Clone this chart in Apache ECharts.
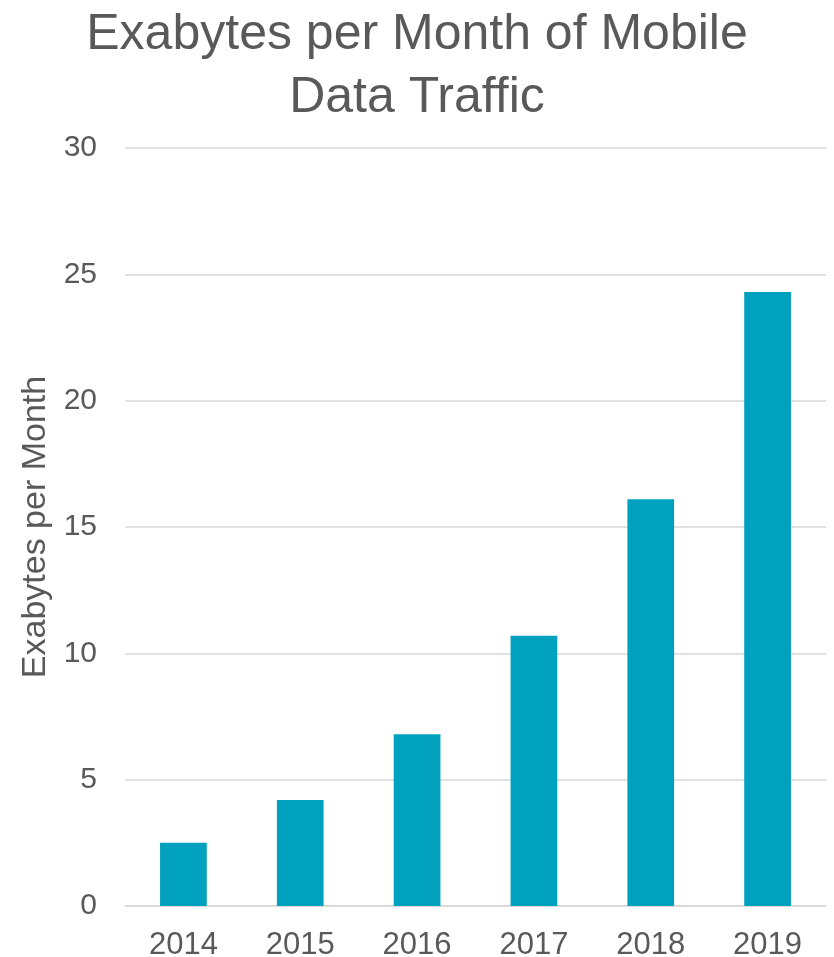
<!DOCTYPE html>
<html>
<head>
<meta charset="utf-8">
<script src="https://cdn.jsdelivr.net/npm/echarts@6/dist/echarts.min.js"></script>
<style>
  html, body { margin: 0; padding: 0; background: #ffffff; }
  #chart { width: 834px; height: 957px; }
</style>
</head>
<body>
<div id="chart"></div>
<script>
// Mobile data traffic, exabytes per month
const years = ['2014', '2015', '2016', '2017', '2018', '2019'];
const exabytes = [2.5, 4.2, 6.8, 10.7, 16.1, 24.3];
const yTicks = [0, 5, 10, 15, 20, 25, 30];

const textColor = '#595959';
const gridColor = '#d9d9d9';
const fontFamily = '"Liberation Sans", Arial, sans-serif';

const chart = echarts.init(document.getElementById('chart'), null, { renderer: 'canvas' });

chart.setOption({
  backgroundColor: '#ffffff',
  animation: false,
  title: {
    text: 'Exabytes per Month of Mobile\nData Traffic',
    left: 'center',
    top: -1,
    textStyle: {
      color: textColor,
      fontFamily: fontFamily,
      fontWeight: 'normal',
      fontSize: 50,
      lineHeight: 63
    }
  },
  grid: {
    left: 125,
    right: 8,
    top: 148,
    bottom: 51,
    outerBoundsMode: 'none'
  },
  xAxis: {
    type: 'category',
    data: years,
    axisLine: { show: true, lineStyle: { color: gridColor, width: 1.5 } },
    axisTick: { show: false },
    axisLabel: {
      color: textColor,
      fontFamily: fontFamily,
      fontSize: 31,
      margin: 24
    }
  },
  yAxis: {
    type: 'value',
    min: yTicks[0],
    max: yTicks[yTicks.length - 1],
    interval: 5,
    name: 'Exabytes per Month',
    nameLocation: 'middle',
    nameGap: 72,
    nameRotate: 90,
    nameTextStyle: {
      color: textColor,
      fontFamily: fontFamily,
      fontSize: 34
    },
    axisLine: { show: false },
    axisTick: { show: false },
    splitLine: { lineStyle: { color: gridColor, width: 1.5 } },
    axisLabel: {
      color: textColor,
      fontFamily: fontFamily,
      fontSize: 30,
      margin: 28
    }
  },
  series: [{
    type: 'bar',
    data: exabytes,
    barWidth: '40%',
    itemStyle: { color: '#00a0bf' }
  }]
});
</script>
</body>
</html>
